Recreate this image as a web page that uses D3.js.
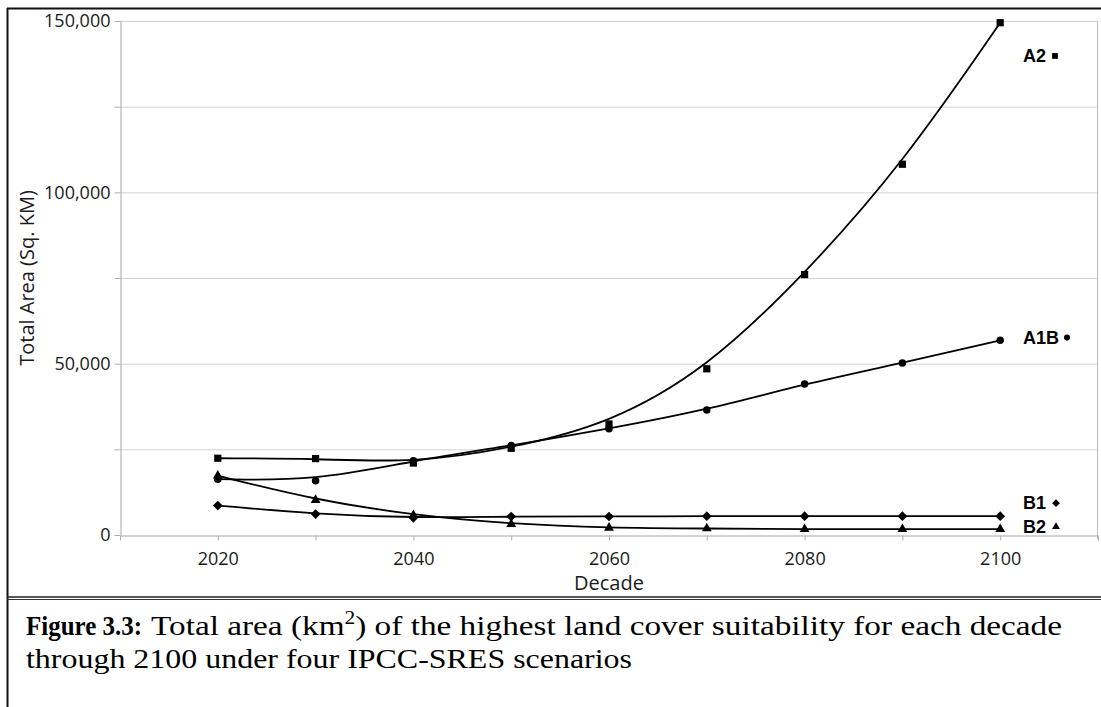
<!DOCTYPE html>
<html>
<head>
<meta charset="utf-8">
<script src="https://cdn.jsdelivr.net/npm/d3@7"></script>
<style>
  body { margin: 0; background: #fff; }
  svg { display: block; }
</style>
</head>
<body>
<script>
// decades and total area (sq. km) per IPCC-SRES scenario
const decades = [2020, 2030, 2040, 2050, 2060, 2070, 2080, 2090, 2100];
const a2 = [22400, 22300, 21000, 25300, 32400, 48500, 76000, 108200, 149500];
const a1b = [16300, 15800, 21700, 26100, 31000, 36500, 44100, 50200, 56800];
const b1 = [8600, 6100, 5000, 5400, 5400, 5500, 5500, 5500, 5500];
const b2 = [17300, 10200, 5800, 3200, 2100, 1900, 1700, 1700, 1700];
const scenarioNames = ['A2', 'A1B', 'B1', 'B2'];
// where each scenario name sits on the right (in sq. km)
const labelAt = [139800, 57600, 9300, 2400];

const xTickValues = [2010, 2020, 2030, 2040, 2050, 2060, 2070, 2080, 2090, 2100, 2110];
const xTickLabels = [2020, 2040, 2060, 2080, 2100];
const yTickValues = [0, 25000, 50000, 75000, 100000, 125000, 150000];
const yTickLabels = [0, 50000, 100000, 150000];

const width = 1101, height = 707;
const plot = { left: 120, right: 1098, top: 21, bottom: 535 };

const svg = d3.select('body').append('svg')
    .attr('width', width)
    .attr('height', height);

const x = d3.scaleLinear().domain([2010, 2110]).range([plot.left, plot.right]);
const y = d3.scaleLinear().domain([0, 150000]).range([plot.bottom, plot.top]);

// outer frame
svg.append('line')
    .attr('x1', 7).attr('x2', width).attr('y1', 8.5).attr('y2', 8.5)
    .attr('stroke', '#111').attr('stroke-width', 2);
svg.append('line')
    .attr('x1', 7.5).attr('x2', 7.5).attr('y1', 8).attr('y2', height)
    .attr('stroke', '#111').attr('stroke-width', 2);
svg.append('line')
    .attr('x1', 7).attr('x2', width).attr('y1', 597).attr('y2', 597)
    .attr('stroke', '#222').attr('stroke-width', 1.4);
svg.append('line')
    .attr('x1', 7).attr('x2', width).attr('y1', 599.5).attr('y2', 599.5)
    .attr('stroke', '#333').attr('stroke-width', 1.2);

// gridlines
svg.append('g')
    .selectAll('line')
    .data(yTickValues.filter(d => d > 0))
    .enter()
    .append('line')
    .attr('x1', plot.left).attr('x2', plot.right)
    .attr('y1', d => y(d) + 0.5).attr('y2', d => y(d) + 0.5)
    .attr('stroke', '#d2d2d2').attr('stroke-width', 1);
svg.append('line')
    .attr('x1', plot.right - 0.5).attr('x2', plot.right - 0.5)
    .attr('y1', plot.top).attr('y2', plot.bottom + 4)
    .attr('stroke', '#bdbdbd');

// axes
const xAxis = d3.axisBottom(x)
    .tickValues(xTickValues)
    .tickSize(5)
    .tickSizeOuter(0)
    .tickPadding(12)
    .tickFormat(d => xTickLabels.includes(d) ? String(d) : '');
const yAxis = d3.axisLeft(y)
    .tickValues(yTickValues)
    .tickSize(6)
    .tickSizeOuter(0)
    .tickPadding(4)
    .tickFormat(d => yTickLabels.includes(d) ? d3.format(',')(d) : '');

const gx = svg.append('g')
    .attr('transform', `translate(0,${plot.bottom + 0.5})`)
    .call(xAxis);
const gy = svg.append('g')
    .attr('transform', `translate(${plot.left + 0.5},0)`)
    .call(yAxis);
[gx, gy].forEach(g => {
    g.select('.domain').attr('stroke', '#a6a6a6');
    g.selectAll('.tick line').attr('stroke', '#b0b0b0');
    g.selectAll('.tick text')
        .attr('fill', '#1a1a1a')
        .style('font-family', '"Open Sans", "Noto Sans", sans-serif')
        .style('font-size', '18px');
});

// axis titles
svg.append('text')
    .attr('x', (plot.left + plot.right) / 2)
    .attr('y', 590)
    .attr('text-anchor', 'middle')
    .style('font-family', '"Open Sans", "Noto Sans", sans-serif')
    .style('font-size', '20px')
    .attr('fill', '#1a1a1a')
    .text('Decade');
svg.append('text')
    .attr('transform', `translate(34,${(plot.top + plot.bottom) / 2}) rotate(-90)`)
    .attr('text-anchor', 'middle')
    .style('font-family', '"Open Sans", "Noto Sans", sans-serif')
    .style('font-size', '20px')
    .attr('fill', '#1a1a1a')
    .text('Total Area (Sq. KM)');

// series
const series = [a2, a1b, b1, b2].map((vals, i) => ({
    name: scenarioNames[i],
    points: decades.map((d, j) => ({ decade: d, value: vals[j] }))
}));
const symbols = [d3.symbolSquare, d3.symbolCircle, d3.symbolDiamond2, d3.symbolTriangle];
const symbolSizes = [52, 44, 60, 42];

const line = d3.line()
    .x(d => x(d.decade))
    .y(d => y(d.value))
    .curve(d3.curveBasis);

svg.append('g')
    .selectAll('path')
    .data(series)
    .enter()
    .append('path')
    .attr('d', d => line(d.points))
    .attr('fill', 'none')
    .attr('stroke', '#000')
    .attr('stroke-width', 1.8);

series.forEach((s, i) => {
    svg.append('g')
        .selectAll('path')
        .data(s.points)
        .enter()
        .append('path')
        .attr('transform', d => `translate(${x(d.decade)},${y(d.value)})`)
        .attr('d', d3.symbol().type(symbols[i]).size(symbolSizes[i]))
        .attr('fill', '#000');
});

// scenario labels on the right
const labelMarkerX = [1055, 1067, 1056, 1056];
series.forEach((s, i) => {
    const ly = y(labelAt[i]);
    svg.append('text')
        .attr('x', 1023)
        .attr('y', ly + 6)
        .style('font-family', '"Liberation Sans", Arial, sans-serif')
        .style('font-size', '18px')
        .style('font-weight', 'bold')
        .attr('fill', '#000')
        .text(s.name);
    svg.append('path')
        .attr('transform', `translate(${labelMarkerX[i]},${ly})`)
        .attr('d', d3.symbol().type(symbols[i]).size(symbolSizes[i] * 0.65))
        .attr('fill', '#000');
});

// caption (stretched to the widths in the original figure)
const caption = svg.append('g')
    .style('font-family', '"Liberation Serif", "Times New Roman", serif')
    .style('font-size', '28px')
    .attr('fill', '#000');
caption.append('text')
    .attr('x', 26)
    .attr('y', 635)
    .attr('textLength', 116)
    .attr('lengthAdjust', 'spacingAndGlyphs')
    .style('font-weight', 'bold')
    .text('Figure 3.3:');
const line1 = caption.append('text')
    .attr('x', 151)
    .attr('y', 635)
    .attr('textLength', 911)
    .attr('lengthAdjust', 'spacingAndGlyphs');
line1.append('tspan').text('Total area (km');
line1.append('tspan').attr('dy', -11).style('font-size', '18px').text('2');
line1.append('tspan').attr('dy', 11).text(') of the highest land cover suitability for each decade');
caption.append('text')
    .attr('x', 26)
    .attr('y', 668)
    .attr('textLength', 606)
    .attr('lengthAdjust', 'spacingAndGlyphs')
    .text('through 2100 under four IPCC-SRES scenarios');
</script>
</body>
</html>
